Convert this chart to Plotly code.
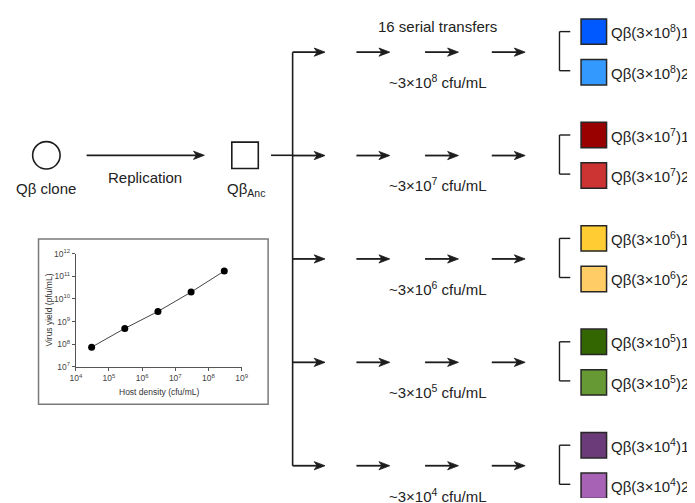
import plotly.graph_objects as go

# page offset: the browser places the figure 8px from the top-left corner
OFF = 8
W, H = 695, 503
FW, FH = W - OFF, H - OFF

# ---------------- data ----------------
exponents = [8, 7, 6, 5, 4]                      # host density exponent per lineage (3x10^e cfu/mL)
replicate_colors = [
    ["#0059FF", "#3399FF"],
    ["#990000", "#CC3333"],
    ["#FFCC33", "#FFCC66"],
    ["#336600", "#669933"],
    ["#6B3A78", "#A862B5"],
]
replicate_ids = [1, 2]
host_density = [3e4, 3e5, 3e6, 3e7, 3e8]             # inset x (cfu/mL)
virus_yield = [7.5e7, 5.0e8, 2.8e9, 2.0e10, 1.7e11]  # inset y (pfu/mL)
x_tick_exp = [4, 5, 6, 7, 8, 9]
y_tick_exp = [7, 8, 9, 10, 11, 12]

# ---------------- style ----------------
FONT = "Liberation Sans, Arial, sans-serif"
INK = "#1c1c1c"
ROW0, ROW_STEP = 47, 105.75
TRUNK_X = 292
ARROW_SEGS = [(292, 325), (357, 391), (427, 461), (495, 529)]

shapes = []
annotations = []


def line(x0, y0, x1, y1, w=1.6, color=INK):
    shapes.append(dict(type="line", xref="x", yref="y", x0=x0, y0=y0, x1=x1, y1=y1,
                       line=dict(color=color, width=w)))


def arrow(x0, x1, y, w=1.8):
    line(x0, y, x1 - 6, y, w)
    path = f"M {x1},{y} L {x1-11},{y-4.2} L {x1-8},{y} L {x1-11},{y+4.2} Z"
    shapes.append(dict(type="path", xref="x", yref="y", path=path,
                       fillcolor=INK, line=dict(color=INK, width=0.8)))


def text(x, y, s, size=15, xanchor="center", color="#222", **kw):
    annotations.append(dict(x=x, y=y, xref="x", yref="y", text=s, showarrow=False,
                            xanchor=xanchor, yanchor="middle",
                            font=dict(family=FONT, size=size, color=color), **kw))


# Left part: clone -> replication -> ancestor
shapes.append(dict(type="circle", xref="x", yref="y", x0=27, y0=138.5, x1=55, y1=166.5,
                   line=dict(color=INK, width=1.6)))
text(41, 186, "Qβ clone")
arrow(82, 202, 152.5)
text(142, 175, "Replication")
shapes.append(dict(type="rect", xref="x", yref="y", x0=230, y0=139, x1=257, y1=166,
                   line=dict(color=INK, width=1.6)))
text(244, 187, "Qβ<sub>Anc</sub>")
line(270, 152.5, TRUNK_X, 152.5)

rows_y = [ROW0 + ROW_STEP * i for i in range(len(exponents))]
line(TRUNK_X, rows_y[0], TRUNK_X, rows_y[-1])

text(440, 21, "16 serial transfers")

for i, e in enumerate(exponents):
    ry = rows_y[i]
    for (a, b) in ARROW_SEGS:
        arrow(a, b, ry)
    text(440, ry + 30, f"~3×10<sup>{e}</sup> cfu/mL")
    # bracket
    line(564, ry - 21, 564, ry + 19, 1.4)
    line(564, ry - 21, 575, ry - 21, 1.4)
    line(564, ry + 19, 575, ry + 19, 1.4)
    for j, rep in enumerate(replicate_ids):
        cy = ry - 21 + 41.5 * j
        shapes.append(dict(type="rect", xref="x", yref="y", x0=586, y0=cy - 13, x1=612, y1=cy + 13,
                           fillcolor=replicate_colors[i][j], line=dict(color="#262626", width=1.5)))
        text(614, cy, f"Qβ(3×10<sup>{e}</sup>){rep}", xanchor="left")

# inset frame
shapes.append(dict(type="rect", xref="x", yref="y", x0=33, y0=238, x1=267, y1=407,
                   line=dict(color="#7a7a7a", width=1.5), layer="below"))
text(156, 395, "Host density (cfu/mL)", size=8.5, color="#333")
text(44, 311, "Virus yield (pfu/mL)", size=8.5, color="#333", textangle=-90)

fig = go.Figure()
fig.add_trace(go.Scatter(x=host_density, y=virus_yield, mode="lines+markers",
                         xaxis="x2", yaxis="y2",
                         line=dict(color="#444", width=1),
                         marker=dict(color="black", size=7), showlegend=False, hoverinfo="skip"))

X_L, X_R = 71, 240
Y_B, Y_T = 369, 253
inset_axis = dict(showline=True, linecolor="#555", linewidth=1, ticks="outside", ticklen=3,
                  tickcolor="#555", tickwidth=1, showgrid=False, zeroline=False,
                  tickfont=dict(family=FONT, size=8.5, color="#444"), type="log")

fig.update_layout(
    width=FW, height=FH, autosize=False,
    margin=dict(l=0, r=0, t=0, b=0, pad=0),
    paper_bgcolor="white", plot_bgcolor="rgba(0,0,0,0)",
    font=dict(family=FONT),
    xaxis=dict(range=[OFF, W], domain=[0, 1], visible=False, fixedrange=True),
    yaxis=dict(range=[H, OFF], domain=[0, 1], visible=False, fixedrange=True),
    xaxis2=dict(inset_axis, domain=[(X_L - OFF) / FW, (X_R - OFF) / FW], anchor="y2", range=[4, 9],
                tickvals=[10 ** e for e in x_tick_exp],
                ticktext=[f"10<sup>{e}</sup>" for e in x_tick_exp]),
    yaxis2=dict(inset_axis, domain=[(H - Y_B) / FH, (H - Y_T) / FH], anchor="x2", range=[7, 12],
                tickvals=[10 ** e for e in y_tick_exp],
                ticktext=[f"10<sup>{e}</sup>" for e in y_tick_exp]),
    shapes=shapes, annotations=annotations, showlegend=False,
)

fig.write_html("out.html")
